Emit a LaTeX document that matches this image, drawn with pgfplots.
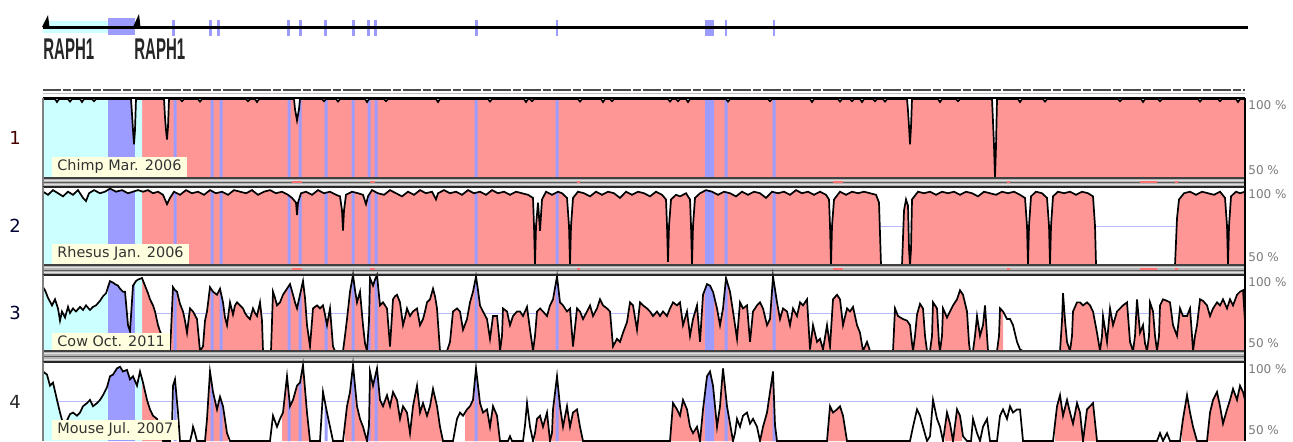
\documentclass[border=0pt]{standalone}
\usepackage{pgfplots}
\pgfplotsset{compat=1.18}
\usepgfplotslibrary{fillbetween}
\usepackage{pgfplotstable}
\usepackage{graphicx}
\usepackage{fontspec}
\setmainfont{DejaVu Sans}
\newfontfamily\lib{Liberation Sans}
\definecolor{pinkc}{HTML}{FF9696}
\definecolor{cyanc}{HTML}{CCFFFF}
\definecolor{bluec}{HTML}{9C9CFF}
\definecolor{creamc}{HTML}{FFFFE0}
\definecolor{stripc}{HTML}{B4B4B4}
\definecolor{redm}{HTML}{FF7070}
\definecolor{pctc}{HTML}{7A7A7A}
\definecolor{midl}{HTML}{B8B8FF}

\newcommand{\band}[4]{\addplot[fill=#1,draw=none] fill between[of=c#2 and b#2, soft clip={domain=#3:#4}];}
\newcommand{\utr}[1]{\band{cyanc}{#1}{43}{108}\band{bluec}{#1}{108}{135}\band{cyanc}{#1}{135}{142}}
\newcommand{\exons}[1]{%
\band{bluec}{#1}{173.5}{176.5}%
\band{bluec}{#1}{210.5}{213.5}%
\band{bluec}{#1}{219.5}{222.5}%
\band{bluec}{#1}{287.5}{290.5}%
\band{bluec}{#1}{298.5}{301.5}%
\band{bluec}{#1}{324.5}{327.5}%
\band{bluec}{#1}{351.5}{354.5}%
\band{bluec}{#1}{367.5}{370.5}%
\band{bluec}{#1}{374.5}{377.5}%
\band{bluec}{#1}{474.5}{477.5}%
\band{bluec}{#1}{555.5}{558.5}%
\band{bluec}{#1}{705}{714}%
\band{bluec}{#1}{724.5}{727.5}%
\band{bluec}{#1}{772.5}{775.5}}
\newcommand{\gx}[2]{\addplot[fill=bluec,draw=none] coordinates {(#1,20)(#2,20)(#2,36)(#1,36)};}
\newcommand{\redmark}[3]{\addplot[fill=redm,draw=none] coordinates {(#1,#3)(#2,#3)(#2,47)(#1,47)};}

\pgfplotsset{panel/.style={scale only axis, width=601pt, anchor=north west,
  xmin=43, xmax=1245, ymax=100, axis line style={draw=none}, ticks=none,
  clip=false, set layers}}

% Chimp
\pgfplotstableread[row sep=\\]{
x y\\
43 99.3\\ 55 99.3\\ 57 97.5\\ 59 99.3\\ 68 99.3\\ 70 97.8\\ 72 99.3\\ 80 99.3\\ 82 97.5\\ 84 99.3\\ 92 99.3\\ 94 98\\ 96 99.3\\
131 99.3\\ 132 90\\ 133 80\\ 134 71\\ 135 80\\ 136 99.3\\ 164 99.3\\ 165 88\\ 166 80\\ 167 74\\ 168 82\\ 169 99.3\\
180 99.3\\ 182 98\\ 184 99.3\\ 198 99.3\\ 200 97.8\\ 202 99.3\\ 246 99.3\\ 248 98\\ 250 99.3\\ 255 99.3\\ 257 97.5\\ 259 99.3\\
294 99.3\\ 295 93\\ 297 86\\ 299 93\\ 300 99.3\\ 322 99.3\\ 324 98\\ 326 99.3\\ 336 99.3\\ 338 97.8\\ 340 99.3\\
365 99.3\\ 367 97.5\\ 369 99.3\\ 384 99.3\\ 386 98\\ 388 99.3\\ 436 99.3\\ 438 97.5\\ 440 99.3\\ 488 99.3\\ 490 97.8\\ 492 99.3\\
524 99.3\\ 526 97.5\\ 528 99.3\\ 530 99.3\\ 532 98\\ 534 99.3\\ 578 99.3\\ 580 97.8\\ 582 99.3\\ 601 99.3\\ 603 97.5\\ 605 99.3\\
610 99.3\\ 612 98\\ 614 99.3\\ 668 99.3\\ 670 97.8\\ 672 99.3\\ 676 99.3\\ 678 98\\ 680 99.3\\ 686 99.3\\ 688 97.5\\ 690 99.3\\
726 99.3\\ 728 97.8\\ 730 99.3\\ 768 99.3\\ 770 98\\ 772 99.3\\ 810 99.3\\ 812 97.5\\ 814 99.3\\ 838 99.3\\ 840 97.8\\ 842 99.3\\
850 99.3\\ 852 98\\ 854 99.3\\ 860 99.3\\ 862 97.5\\ 864 99.3\\ 873 99.3\\ 875 98\\ 877 99.3\\ 883 99.3\\ 885 97.8\\ 887 99.3\\
907 99.3\\ 908 92\\ 909 82\\ 910 71\\ 911 82\\ 912 99.3\\ 938 99.3\\ 940 97.5\\ 942 99.3\\ 956 99.3\\ 958 98\\ 960 99.3\\
992 99.3\\ 993 85\\ 994 70\\ 995 50\\ 996 70\\ 997 99.3\\ 1018 99.3\\ 1020 97.5\\ 1022 99.3\\ 1043 99.3\\ 1045 97.8\\ 1047 99.3\\
1118 99.3\\ 1120 98\\ 1122 99.3\\ 1141 99.3\\ 1143 97.5\\ 1145 99.3\\ 1158 99.3\\ 1160 98\\ 1162 99.3\\ 1198 99.3\\ 1200 97.8\\ 1202 99.3\\
1218 99.3\\ 1220 98\\ 1222 99.3\\ 1236 99.3\\ 1238 97.5\\ 1240 99.3\\ 1245 99.3\\
}\dataA

% Rhesus
\pgfplotstableread[row sep=\\]{
x y\\
43 97\\ 48 95\\ 53 98\\ 58 96\\ 63 94\\ 68 97\\ 73 95\\ 78 98\\ 83 93\\ 86 91\\ 89 96\\ 94 98\\ 100 96\\ 105 97\\ 110 99\\ 116 97\\
122 98\\ 128 96\\ 133 97\\ 138 98\\ 143 97\\ 148 98\\ 153 96\\ 158 97\\ 163 95\\ 167 89\\ 170 93\\ 174 97\\ 180 95\\ 186 98\\
192 96\\ 198 97\\ 204 95\\ 210 98\\ 216 96\\ 222 97\\ 228 95\\ 234 98\\ 240 97\\ 246 96\\ 252 98\\ 258 95\\ 264 97\\ 270 98\\
276 96\\ 282 97\\ 288 95\\ 292 93\\ 296 90\\ 297 82\\ 298 90\\ 301 96\\ 306 97\\ 312 95\\ 318 98\\ 324 96\\ 330 97\\ 336 95\\
340 94\\ 342 85\\ 343 72\\ 344 85\\ 346 95\\ 352 97\\ 358 96\\ 363 95\\ 366 89\\ 368 94\\ 372 98\\ 378 96\\ 384 95\\ 390 98\\
396 96\\ 402 94\\ 408 97\\ 414 95\\ 420 98\\ 426 96\\ 432 97\\ 436 92\\ 438 96\\ 444 98\\ 450 96\\ 456 97\\ 462 95\\ 468 98\\
474 96\\ 480 97\\ 486 95\\ 492 98\\ 498 96\\ 504 97\\ 510 95\\ 516 97\\ 522 96\\ 528 95\\ 533 93\\ 534 75\\ 535 50\\ 536 75\\
538 90\\ 540 72\\ 542 92\\ 546 97\\ 552 95\\ 558 97\\ 562 96\\ 567 93\\ 569 75\\ 570 50\\ 571 75\\ 573 93\\ 578 97\\ 584 96\\
590 94\\ 596 97\\ 602 95\\ 608 97\\ 614 96\\ 620 93\\ 626 97\\ 632 95\\ 638 97\\ 644 96\\ 650 94\\ 656 97\\ 662 95\\ 666 92\\
667 75\\ 668 52\\ 669 75\\ 671 92\\ 676 95\\ 680 94\\ 686 96\\ 690 92\\ 691 75\\ 692 50\\ 693 75\\ 695 93\\ 700 96\\ 706 98\\
712 97\\ 718 95\\ 724 97\\ 730 96\\ 736 94\\ 742 97\\ 748 95\\ 754 97\\ 760 96\\ 766 93\\ 772 97\\ 778 96\\ 784 97\\ 790 95\\
796 98\\ 802 96\\ 808 97\\ 814 95\\ 820 97\\ 826 95\\ 829 92\\ 830 75\\ 831 50\\ 832 75\\ 834 92\\ 840 97\\ 846 95\\ 852 97\\
858 96\\ 864 97\\ 870 96\\ 876 95\\ 879 90\\ 881 50\\ 902 50\\ 904 85\\ 906 92\\ 908 88\\ 909 60\\ 910 50\\ 911 60\\ 912 92\\
918 97\\ 924 96\\ 930 97\\ 936 95\\ 942 97\\ 948 96\\ 954 97\\ 960 95\\ 966 97\\ 972 96\\ 978 94\\ 984 97\\ 990 96\\ 996 95\\
1002 97\\ 1008 96\\ 1014 97\\ 1020 95\\ 1025 93\\ 1027 75\\ 1028 50\\ 1029 75\\ 1031 94\\ 1036 97\\ 1042 96\\ 1047 93\\
1049 75\\ 1050 50\\ 1051 75\\ 1053 94\\ 1058 97\\ 1064 96\\ 1070 97\\ 1076 95\\ 1082 97\\ 1088 96\\ 1093 94\\ 1095 75\\
1096 50\\ 1175 50\\ 1177 80\\ 1179 92\\ 1184 96\\ 1190 97\\ 1196 95\\ 1202 97\\ 1208 96\\ 1214 95\\ 1220 97\\ 1225 93\\
1227 75\\ 1228 50\\ 1229 75\\ 1231 94\\ 1236 97\\ 1240 96\\ 1245 97\\
}\dataB

% Cow
\pgfplotstableread[row sep=\\]{
x y\\
43 92\\ 45 90\\ 48 85\\ 52 80\\ 55 84\\ 58 78\\ 60 70\\ 62 76\\ 65 72\\ 68 79\\ 70 75\\ 73 78\\ 76 76\\ 80 79\\ 83 77\\ 86 80\\
90 77\\ 93 79\\ 96 80\\ 100 83\\ 103 86\\ 106 88\\ 110 96\\ 113 95\\ 115 94\\ 118 93\\ 120 91\\ 123 89\\ 125 89\\ 128 67\\
130 63\\ 133 93\\ 136 96\\ 138 97\\ 142 98\\ 145 93\\ 148 88\\ 150 84\\ 153 80\\ 155 76\\ 158 67\\ 160 63\\ 162 60\\ 164 50\\
170 50\\ 171 63\\ 173 92\\ 175 90\\ 177 89\\ 180 81\\ 183 76\\ 185 70\\ 187 62\\ 190 78\\ 193 76\\ 197 71\\ 200 50\\ 203 53\\
205 70\\ 207 76\\ 210 92\\ 213 89\\ 215 88\\ 217 87\\ 220 91\\ 223 82\\ 225 72\\ 227 67\\ 230 82\\ 233 74\\ 235 80\\ 237 82\\
240 80\\ 243 78\\ 245 75\\ 247 73\\ 250 71\\ 253 78\\ 255 75\\ 257 73\\ 260 82\\ 262 70\\ 263 50\\ 271 50\\ 273 89\\ 275 85\\
277 80\\ 280 82\\ 283 87\\ 285 89\\ 287 91\\ 290 94\\ 293 87\\ 295 82\\ 297 78\\ 300 87\\ 303 96\\ 305 85\\ 307 67\\ 310 53\\
313 78\\ 315 79\\ 317 80\\ 320 78\\ 323 80\\ 325 74\\ 327 67\\ 330 78\\ 333 53\\ 335 50\\ 343 50\\ 345 60\\ 347 71\\ 350 89\\
353 100\\ 355 90\\ 357 82\\ 360 89\\ 363 67\\ 365 55\\ 367 50\\ 369 70\\ 370 98\\ 373 93\\ 375 97\\ 377 100\\ 380 80\\ 383 82\\
385 80\\ 387 78\\ 390 53\\ 393 84\\ 395 86\\ 397 87\\ 400 82\\ 403 67\\ 405 72\\ 407 78\\ 410 73\\ 413 76\\ 415 77\\ 417 78\\
420 67\\ 423 71\\ 425 76\\ 427 82\\ 430 84\\ 433 91\\ 435 86\\ 437 78\\ 440 50\\ 447 50\\ 450 56\\ 453 76\\ 457 78\\ 460 76\\
463 64\\ 467 71\\ 470 82\\ 473 89\\ 476 99\\ 478 90\\ 480 80\\ 483 76\\ 487 71\\ 490 58\\ 493 73\\ 497 73\\ 499 60\\ 500 50\\
502 60\\ 503 78\\ 507 76\\ 510 67\\ 513 73\\ 517 76\\ 520 76\\ 523 73\\ 527 79\\ 530 64\\ 532 55\\ 533 50\\ 535 60\\ 537 76\\
540 78\\ 543 76\\ 547 73\\ 550 80\\ 553 84\\ 557 99\\ 560 82\\ 563 80\\ 567 76\\ 570 78\\ 573 53\\ 577 78\\ 580 76\\ 583 71\\
587 76\\ 590 80\\ 593 73\\ 597 78\\ 600 84\\ 603 80\\ 607 78\\ 610 76\\ 613 53\\ 617 58\\ 620 56\\ 623 62\\ 627 69\\ 630 82\\
633 80\\ 637 64\\ 640 82\\ 643 80\\ 647 78\\ 650 76\\ 653 73\\ 657 76\\ 660 73\\ 663 76\\ 667 73\\ 670 78\\ 673 82\\ 677 80\\
680 82\\ 683 67\\ 687 76\\ 690 60\\ 693 71\\ 697 80\\ 700 56\\ 703 87\\ 707 94\\ 710 93\\ 713 89\\ 717 78\\ 720 67\\ 723 78\\
726 98\\ 730 89\\ 733 76\\ 737 58\\ 740 82\\ 743 78\\ 747 80\\ 750 56\\ 753 76\\ 757 80\\ 760 82\\ 763 78\\ 767 67\\ 770 71\\
773 99\\ 777 82\\ 780 71\\ 783 78\\ 787 76\\ 790 67\\ 793 78\\ 797 73\\ 800 82\\ 803 80\\ 807 84\\ 810 51\\ 813 67\\ 817 56\\
820 58\\ 823 51\\ 827 67\\ 830 53\\ 833 84\\ 837 87\\ 840 84\\ 843 67\\ 847 78\\ 850 76\\ 853 79\\ 857 67\\ 860 62\\ 863 50\\
867 56\\ 870 50\\ 893 50\\ 895 78\\ 898 73\\ 903 71\\ 907 70\\ 910 67\\ 912 55\\ 913 50\\ 915 60\\ 917 74\\ 920 81\\ 923 78\\
925 60\\ 927 50\\ 930 50\\ 932 60\\ 933 82\\ 937 78\\ 939 55\\ 940 50\\ 942 60\\ 943 78\\ 947 72\\ 950 76\\ 953 80\\ 957 84\\
960 90\\ 963 87\\ 967 76\\ 969 55\\ 970 50\\ 973 50\\ 975 60\\ 977 73\\ 980 60\\ 983 67\\ 985 80\\ 987 60\\ 988 50\\ 997 50\\
999 60\\ 1000 78\\ 1003 76\\ 1007 71\\ 1010 71\\ 1013 67\\ 1017 56\\ 1020 51\\ 1023 50\\ 1060 50\\ 1062 70\\ 1063 88\\
1065 70\\ 1067 56\\ 1070 50\\ 1072 60\\ 1073 76\\ 1077 82\\ 1080 82\\ 1083 80\\ 1087 82\\ 1090 80\\ 1093 76\\ 1097 62\\
1100 50\\ 1102 60\\ 1103 73\\ 1107 56\\ 1110 78\\ 1113 67\\ 1117 76\\ 1120 78\\ 1123 80\\ 1127 82\\ 1130 56\\ 1133 50\\
1135 60\\ 1137 84\\ 1140 62\\ 1143 67\\ 1145 55\\ 1147 50\\ 1149 60\\ 1150 82\\ 1153 76\\ 1155 60\\ 1157 50\\ 1159 60\\
1160 80\\ 1163 84\\ 1167 83\\ 1170 82\\ 1173 67\\ 1177 60\\ 1180 78\\ 1183 73\\ 1187 73\\ 1190 78\\ 1192 60\\ 1193 50\\
1195 60\\ 1197 67\\ 1200 84\\ 1203 83\\ 1207 80\\ 1210 73\\ 1213 78\\ 1217 82\\ 1220 80\\ 1223 84\\ 1227 78\\ 1230 84\\
1233 80\\ 1237 87\\ 1240 89\\ 1243 90\\ 1245 69\\
}\dataC

% Mouse
\pgfplotstableread[row sep=\\]{
x y\\
43 94\\ 47 92\\ 50 85\\ 53 87\\ 57 76\\ 60 68\\ 63 61\\ 67 63\\ 70 67\\ 73 68\\ 77 66\\ 80 68\\ 83 72\\ 87 74\\ 90 76\\ 93 72\\
97 74\\ 100 76\\ 103 79\\ 107 84\\ 110 91\\ 113 92\\ 117 96\\ 120 97\\ 123 94\\ 127 95\\ 130 89\\ 133 91\\ 137 85\\ 140 94\\
143 87\\ 147 76\\ 150 70\\ 153 66\\ 157 64\\ 160 57\\ 163 50\\ 170 50\\ 172 60\\ 173 85\\ 175 89\\ 178 68\\ 180 50\\ 190 50\\
192 55\\ 193 59\\ 195 55\\ 197 50\\ 205 50\\ 207 64\\ 210 94\\ 213 81\\ 217 70\\ 220 78\\ 223 72\\ 227 55\\ 230 50\\ 270 50\\
273 66\\ 277 59\\ 280 64\\ 283 68\\ 287 91\\ 290 72\\ 293 76\\ 297 85\\ 300 87\\ 303 98\\ 307 68\\ 310 50\\ 320 50\\ 323 81\\
327 68\\ 330 59\\ 333 50\\ 343 50\\ 347 72\\ 350 81\\ 353 98\\ 357 72\\ 360 64\\ 363 59\\ 367 50\\ 369 60\\ 370 94\\ 373 85\\
377 96\\ 380 76\\ 383 72\\ 387 79\\ 390 72\\ 393 81\\ 397 76\\ 400 64\\ 403 72\\ 407 68\\ 410 55\\ 413 72\\ 417 85\\ 420 68\\
423 74\\ 427 66\\ 430 72\\ 433 83\\ 437 72\\ 440 59\\ 443 50\\ 453 50\\ 457 64\\ 460 68\\ 463 66\\ 467 70\\ 470 72\\ 473 76\\
476 96\\ 480 74\\ 483 68\\ 487 70\\ 490 59\\ 493 72\\ 497 66\\ 500 50\\ 508 50\\ 510 53\\ 512 50\\ 523 50\\ 525 60\\ 527 74\\
530 59\\ 533 50\\ 535 55\\ 537 64\\ 540 66\\ 543 59\\ 547 68\\ 550 50\\ 552 55\\ 553 70\\ 557 91\\ 560 72\\ 563 59\\ 567 72\\
570 59\\ 573 68\\ 577 70\\ 580 59\\ 583 50\\ 670 50\\ 673 74\\ 677 70\\ 680 66\\ 683 76\\ 687 70\\ 690 59\\ 693 55\\ 697 59\\
700 50\\ 703 70\\ 707 91\\ 710 94\\ 713 85\\ 717 59\\ 720 72\\ 723 96\\ 727 72\\ 730 61\\ 733 50\\ 735 55\\ 737 64\\ 740 59\\
743 66\\ 747 68\\ 750 61\\ 753 64\\ 757 59\\ 760 50\\ 763 59\\ 767 68\\ 770 81\\ 773 94\\ 775 60\\ 777 50\\ 827 50\\ 830 72\\
833 68\\ 837 70\\ 840 72\\ 843 66\\ 847 50\\ 910 50\\ 913 59\\ 917 70\\ 920 66\\ 923 59\\ 927 50\\ 930 53\\ 933 76\\ 937 64\\
940 59\\ 943 50\\ 947 68\\ 950 61\\ 953 50\\ 957 70\\ 960 66\\ 963 53\\ 967 50\\ 971 50\\ 973 64\\ 977 55\\ 980 50\\ 983 59\\
987 64\\ 990 50\\ 997 50\\ 1000 66\\ 1003 70\\ 1007 64\\ 1010 72\\ 1013 68\\ 1017 70\\ 1020 70\\ 1023 50\\ 1053 50\\
1057 72\\ 1060 79\\ 1063 66\\ 1067 76\\ 1070 68\\ 1073 61\\ 1077 74\\ 1080 68\\ 1083 50\\ 1087 70\\ 1090 72\\ 1093 74\\
1097 50\\ 1157 50\\ 1160 55\\ 1163 50\\ 1167 55\\ 1170 50\\ 1180 50\\ 1183 64\\ 1187 79\\ 1190 68\\ 1193 59\\ 1197 50\\
1207 50\\ 1210 68\\ 1213 76\\ 1217 81\\ 1220 72\\ 1223 61\\ 1227 70\\ 1230 76\\ 1233 83\\ 1237 76\\ 1240 85\\ 1243 81\\ 1245 76\\
}\dataD

\begin{document}
\begin{tikzpicture}

% ---------------- gene track ----------------
\begin{axis}[at={(21.5pt,-2.5pt)}, anchor=north west, scale only axis, width=601pt, height=20pt,
  xmin=43, xmax=1245, ymin=5, ymax=45, y dir=reverse, hide axis, clip=false]
\addplot[fill=cyanc,draw=none] coordinates {(43,21)(108,21)(108,33)(43,33)};
\addplot[fill=bluec,draw=none] coordinates {(108,18)(135,18)(135,35)(108,35)};
\gx{172}{174.5}\gx{209}{211.5}\gx{217}{219.5}\gx{287}{289.5}\gx{299}{301.5}\gx{324}{326.5}
\gx{352}{354.5}\gx{367}{369.5}\gx{374}{376.5}\gx{475}{477.5}\gx{556}{558}\gx{705}{714}
\gx{724.5}{727}\gx{772.5}{775}
\addplot[black, line width=1.5pt] coordinates {(43,27)(1248,27)};
\addplot[fill=black,draw=none] coordinates {(42,27)(48,15)(49.5,27)};
\addplot[fill=black,draw=none] coordinates {(133,27)(139,14)(140.5,27)};
\node[anchor=north west, inner sep=0pt, text=black!85] at (axis cs:43,38) {\lib\bfseries\fontsize{15}{16}\selectfont\scalebox{0.5}[1]{RAPH1}};
\node[anchor=north west, inner sep=0pt, text=black!85] at (axis cs:134,38) {\lib\bfseries\fontsize{15}{16}\selectfont\scalebox{0.5}[1]{RAPH1}};
\addplot[black!70, line width=0.7pt, dash pattern=on 9pt off 1pt on 4pt off 1pt] coordinates {(43,90)(1245,90)};
\addplot[black!25, line width=0.5pt] coordinates {(43,93)(1245,93)};
\end{axis}

% ---------------- panel 1: Chimp ----------------
\begin{axis}[panel, at={(21.5pt,-49pt)}, height=44.5pt, ymin=44.375]
\addplot[name path=b1, draw=none] coordinates {(43,50)(1245,50)};
\addplot[name path=c1, draw=none] table {\dataA};
\addplot[midl, line width=0.4pt, on layer=axis background] coordinates {(43,75)(1245,75)};
\band{pinkc}{1}{142}{1245}
\utr{1}\exons{1}
\addplot[black, line width=0.85pt] table {\dataA};
\addplot[fill=stripc,draw=none] coordinates {(43,44.375)(1245,44.375)(1245,50)(43,50)};
\addplot[white!88!black, line width=0.5pt] coordinates {(43,48.6)(1245,48.6)};
\addplot[white!88!black, line width=0.5pt] coordinates {(43,45.8)(1245,45.8)};
\addplot[black!65, line width=0.5pt] coordinates {(43,47.2)(1245,47.2)};
\redmark{292}{302}{48.1}\redmark{370}{375}{48.1}\redmark{577}{580}{48.1}\redmark{833}{843}{48.1}
\redmark{1007}{1010}{48.1}\redmark{1140}{1157}{48.1}\redmark{1175}{1178}{48.1}
\addplot[black!75, line width=0.6pt] coordinates {(43,50)(1245,50)};
\addplot[black!85, line width=0.8pt] coordinates {(43,44.375)(1245,44.375)};
\addplot[black, line width=1.1pt] coordinates {(43,100)(1245,100)};
\addplot[black, line width=1pt] coordinates {(1245,44.375)(1245,100)};
\addplot[black!50, line width=1pt] coordinates {(43,44.375)(43,100)};
\node[anchor=south west, fill=creamc, inner xsep=2.5pt, inner ysep=1.5pt, font=\fontsize{7.2}{8}\selectfont, text=black!80, xshift=4.5pt, yshift=0.5pt] at (axis cs:43,50) {Chimp Mar. 2006\hspace{3pt}};
\node[anchor=west, inner sep=0pt, font=\fontsize{6}{7}\selectfont, text=pctc, xshift=1.5pt, yshift=-3.75pt] at (axis cs:1245,100) {100 \%};
\node[anchor=west, inner sep=0pt, font=\fontsize{6}{7}\selectfont, text=pctc, xshift=1.5pt, yshift=4pt] at (axis cs:1245,50) {50 \%};
\node[font=\fontsize{9}{10}\selectfont, text=black!60!red!70!black, xshift=-14pt] at (axis cs:43,75) {1};
\end{axis}

% ---------------- panel 2: Rhesus ----------------
\begin{axis}[panel, at={(21.5pt,-93.5pt)}, height=44pt, ymin=43.59]
\addplot[name path=b2, draw=none] coordinates {(43,50)(1245,50)};
\addplot[name path=c2, draw=none] table {\dataB};
\addplot[midl, line width=0.4pt, on layer=axis background] coordinates {(43,75)(1245,75)};
\band{pinkc}{2}{142}{1245}
\utr{2}\exons{2}
\addplot[black, line width=0.85pt] table {\dataB};
\addplot[fill=stripc,draw=none] coordinates {(43,43.59)(1245,43.59)(1245,50)(43,50)};
\addplot[white!88!black, line width=0.5pt] coordinates {(43,48.4)(1245,48.4)};
\addplot[white!88!black, line width=0.5pt] coordinates {(43,45.2)(1245,45.2)};
\addplot[black!65, line width=0.5pt] coordinates {(43,46.8)(1245,46.8)};
\redmark{292}{302}{47.9}\redmark{370}{375}{47.9}\redmark{577}{580}{47.9}\redmark{833}{843}{47.9}
\redmark{1007}{1010}{47.9}\redmark{1140}{1157}{47.9}\redmark{1175}{1178}{47.9}
\addplot[black!75, line width=0.6pt] coordinates {(43,50)(1245,50)};
\addplot[black!85, line width=0.8pt] coordinates {(43,43.59)(1245,43.59)};
\addplot[black!85, line width=0.8pt] coordinates {(43,100)(1245,100)};
\addplot[black, line width=1pt] coordinates {(1245,43.59)(1245,100)};
\addplot[black!50, line width=1pt] coordinates {(43,43.59)(43,100)};
\node[anchor=south west, fill=creamc, inner xsep=2.5pt, inner ysep=1.5pt, font=\fontsize{7.2}{8}\selectfont, text=black!80, xshift=4.5pt, yshift=0.5pt] at (axis cs:43,50) {Rhesus Jan. 2006\hspace{3pt}};
\node[anchor=west, inner sep=0pt, font=\fontsize{6}{7}\selectfont, text=pctc, xshift=1.5pt, yshift=-3.75pt] at (axis cs:1245,100) {100 \%};
\node[anchor=west, inner sep=0pt, font=\fontsize{6}{7}\selectfont, text=pctc, xshift=1.5pt, yshift=4pt] at (axis cs:1245,50) {50 \%};
\node[font=\fontsize{9}{10}\selectfont, text=black!80!blue, xshift=-14pt] at (axis cs:43,75) {2};
\end{axis}

% ---------------- panel 3: Cow ----------------
\begin{axis}[panel, at={(21.5pt,-137.5pt)}, height=43.5pt, ymin=42.76]
\addplot[name path=b3, draw=none] coordinates {(43,50)(1245,50)};
\addplot[name path=c3, draw=none] table {\dataC};
\addplot[midl, line width=0.4pt, on layer=axis background] coordinates {(43,75)(1245,75)};
\band{pinkc}{3}{142}{1003}
\band{pinkc}{3}{1023}{1245}
\utr{3}\exons{3}
\addplot[black, line width=0.85pt] table {\dataC};
\addplot[fill=stripc,draw=none] coordinates {(43,42.76)(1245,42.76)(1245,50)(43,50)};
\addplot[white!88!black, line width=0.5pt] coordinates {(43,48.2)(1245,48.2)};
\addplot[white!88!black, line width=0.5pt] coordinates {(43,44.6)(1245,44.6)};
\addplot[black!65, line width=0.5pt] coordinates {(43,46.4)(1245,46.4)};
\addplot[black!75, line width=0.6pt] coordinates {(43,50)(1245,50)};
\addplot[black!85, line width=0.8pt] coordinates {(43,42.76)(1245,42.76)};
\addplot[black!85, line width=0.8pt] coordinates {(43,100)(1245,100)};
\addplot[black, line width=1pt] coordinates {(1245,42.76)(1245,100)};
\addplot[black!50, line width=1pt] coordinates {(43,42.76)(43,100)};
\node[anchor=south west, fill=creamc, inner xsep=2.5pt, inner ysep=1.5pt, font=\fontsize{7.2}{8}\selectfont, text=black!80, xshift=4.5pt, yshift=0.5pt] at (axis cs:43,50) {Cow Oct. 2011\hspace{3pt}};
\node[anchor=west, inner sep=0pt, font=\fontsize{6}{7}\selectfont, text=pctc, xshift=1.5pt, yshift=-3.75pt] at (axis cs:1245,100) {100 \%};
\node[anchor=west, inner sep=0pt, font=\fontsize{6}{7}\selectfont, text=pctc, xshift=1.5pt, yshift=4pt] at (axis cs:1245,50) {50 \%};
\node[font=\fontsize{9}{10}\selectfont, text=black!80!blue, xshift=-14pt] at (axis cs:43,75) {3};
\end{axis}

% ---------------- panel 4: Mouse ----------------
\begin{axis}[panel, at={(21.5pt,-181pt)}, height=39.5pt, ymin=50]
\addplot[name path=b4, draw=none] coordinates {(43,50)(1245,50)};
\addplot[name path=c4, draw=none] table {\dataD};
\addplot[midl, line width=0.4pt, on layer=axis background] coordinates {(43,75)(1245,75)};
\band{pinkc}{4}{142}{165}\band{pinkc}{4}{205}{228}\band{pinkc}{4}{282}{310}
\band{pinkc}{4}{345}{367}\band{pinkc}{4}{368}{443}\band{pinkc}{4}{465}{500}
\band{pinkc}{4}{535}{583}\band{pinkc}{4}{670}{733}\band{pinkc}{4}{760}{777}
\band{pinkc}{4}{828}{847}\band{pinkc}{4}{945}{962}\band{pinkc}{4}{1055}{1097}
\band{pinkc}{4}{1182}{1197}\band{pinkc}{4}{1208}{1245}
\utr{4}\exons{4}
\addplot[black, line width=0.85pt] table {\dataD};
\addplot[black!85, line width=0.8pt] coordinates {(43,100)(1245,100)};
\addplot[black, line width=1pt] coordinates {(1245,50)(1245,100)};
\addplot[black!50, line width=1pt] coordinates {(43,50)(43,100)};
\node[anchor=south west, fill=creamc, inner xsep=2.5pt, inner ysep=1.5pt, font=\fontsize{7.2}{8}\selectfont, text=black!80, xshift=4.5pt, yshift=0.5pt] at (axis cs:43,50) {Mouse Jul. 2007\hspace{3pt}};
\node[anchor=west, inner sep=0pt, font=\fontsize{6}{7}\selectfont, text=pctc, xshift=1.5pt, yshift=-3.75pt] at (axis cs:1245,100) {100 \%};
\node[anchor=west, inner sep=0pt, font=\fontsize{6}{7}\selectfont, text=pctc, xshift=1.5pt, yshift=5.5pt] at (axis cs:1245,50) {50 \%};
\node[font=\fontsize{9}{10}\selectfont, text=black!85, xshift=-14pt] at (axis cs:43,75) {4};
\end{axis}
\pgfresetboundingbox
\path[use as bounding box] (0,0) rectangle (646.5pt,-220.5pt);
\end{tikzpicture}
\end{document}
